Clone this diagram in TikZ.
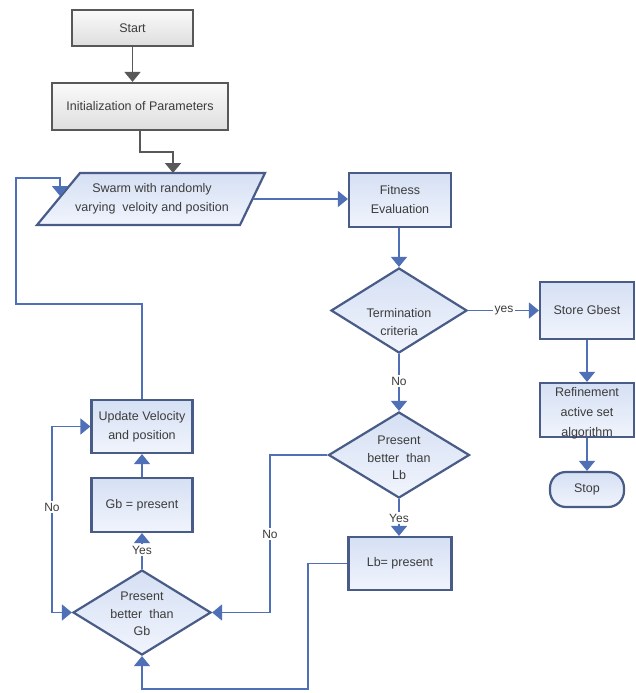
\documentclass[tikz,border=0pt]{standalone}
\usepackage{fontspec}
\setmainfont{Liberation Sans}
\usetikzlibrary{shapes.geometric,arrows.meta}
\definecolor{linecol}{RGB}{79,112,182}
\definecolor{bordercol}{RGB}{72,92,135}
\definecolor{fillT}{RGB}{214,224,244}
\definecolor{fillB}{RGB}{240,244,252}
\definecolor{grayline}{RGB}{88,88,88}
\definecolor{grayT}{RGB}{250,250,250}
\definecolor{grayB}{RGB}{222,222,222}
\definecolor{txt}{RGB}{60,60,60}
\tikzset{
  basefont/.style={font=\fontsize{12.5}{19}\selectfont, text=txt, align=center},
  bbox/.style={rectangle, draw=bordercol, line width=2.2pt, top color=fillT, bottom color=fillB, inner sep=0pt, basefont},
  gbox/.style={rectangle, draw=grayline, line width=2.2pt, top color=grayT, bottom color=grayB, inner sep=0pt, basefont},
  dia/.style={diamond, draw=bordercol, line width=2.2pt, top color=fillT, bottom color=fillB, inner sep=0pt},
  diatext/.style={text=txt, align=center, font=\fontsize{12.5}{17.5}\selectfont},
  term/.style={rectangle, rounded corners=16pt, draw=bordercol, line width=2.2pt, top color=fillT, bottom color=fillB, inner sep=0pt, basefont},
  conn/.style={draw=linecol, line width=1.6pt, -{Triangle[width=16pt,length=10pt]}},
  conn2/.style={draw=linecol, line width=1.6pt, {Triangle[width=16pt,length=10pt]}-{Triangle[width=16pt,length=10pt]}},
  gconn/.style={draw=grayline, line width=1.8pt, -{Triangle[width=16pt,length=10pt]}},
  lab/.style={fill=white, inner sep=1.5pt, font=\fontsize{12}{13}\selectfont, text=txt}
}
\begin{document}
\begin{tikzpicture}[x=1pt,y=-1pt]
\useasboundingbox (0,0) rectangle (635,693);
\fill[white] (0,0) rectangle (635,693);

% nodes
\node[gbox, minimum width=121pt, minimum height=36pt] (start) at (132.5,28) {Start};
\node[gbox, minimum width=176pt, minimum height=47pt] (init) at (140,106.5) {Initialization of Parameters};

\draw[draw=bordercol, line width=2.2pt, top color=fillT, bottom color=fillB]
  (80,173) -- (265,173) -- (240,225) -- (37,225) -- cycle;
\node[basefont] (swarm) at (152,199) {Swarm with randomly\\varying\ \ veloity and position};
\coordinate (swtop) at (173,173);
\coordinate (swin) at (60,196);
\coordinate (swout) at (252.5,199);

\node[bbox, minimum width=102pt, minimum height=54pt] (fit) at (400,200) {Fitness\\Evaluation};
\node[dia, minimum width=136pt, minimum height=85pt] (crit) at (399,310.5) {};
\node[diatext] (crittxt) at (399,322) {Termination\\criteria};
\node[bbox, minimum width=94pt, minimum height=57pt] (store) at (587,310.5) {Store Gbest};
\node[bbox, minimum width=94pt, minimum height=54pt] (refine) at (587,410) {};
\node[basefont, font=\fontsize{12.5}{20}\selectfont] (refinetxt) at (587,413) {Refinement\\active set\\algorithm};
\node[term, minimum width=74pt, minimum height=35pt] (stop) at (587,489.5) {Stop};

\node[dia, minimum width=141pt, minimum height=86pt] (lb) at (399,455) {};
\node[diatext] (lbtxt) at (399,458) {Present\\better\ \ than\\Lb};
\node[bbox, minimum width=103pt, minimum height=53pt] (lbp) at (400,563.5) {Lb= present};

\node[dia, minimum width=138pt, minimum height=85pt] (gb) at (142,612.5) {};
\node[diatext] (gbtxt) at (142,614) {Present\\better\ \ than\\Gb};
\node[bbox, minimum width=101pt, minimum height=54pt] (gbp) at (142,505) {Gb = present};
\node[bbox, minimum width=101pt, minimum height=53pt] (upd) at (142,426.5) {Update Velocity\\and position};

% connectors
\draw[gconn] (start.south) -- (start.south |- init.north);
\draw[gconn] (init.south) -- ++(0,21) -| (swtop);
\draw[conn] (upd.north) -- ++(0,-95) -| (16,178) -| (swin);
\draw[conn] (swout) -- (swout -| fit.west);
\draw[conn] (fit.south -| crit.north) -- (crit.north);
\draw[conn] (crit.east) -- (store.west |- crit.east);
\node[lab] (yes1) at (504,310.5) {yes};
\draw[conn] (store.south) -- (refine.north);
\draw[conn] (refine.south) -- (stop.north);

\draw[conn] (crit.south) -- (lb.north);
\node[lab] (no1) at (399,381) {No};
\draw[conn] (lb.south) -- (lb.south |- lbp.north);
\node[lab] (yes2) at (399,518) {Yes};

\draw[conn] (lb.west) -- (270,455) |- (gb.east);
\node[lab] (no2) at (270,534) {No};
\draw[conn] (lbp.west) -- (308,563.5) -- (308,689) -| (gb.south);

\draw[conn] (gb.north) -- (gbp.south);
\node[lab] (yes3) at (142,550) {Yes};
\draw[conn] (gbp.north) -- (upd.south);
\draw[conn2] (gb.west) -- (52,612.5) -- (52,426.5) -- (upd.west);
\node[lab] (no3) at (52,507) {No};
\end{tikzpicture}
\end{document}
